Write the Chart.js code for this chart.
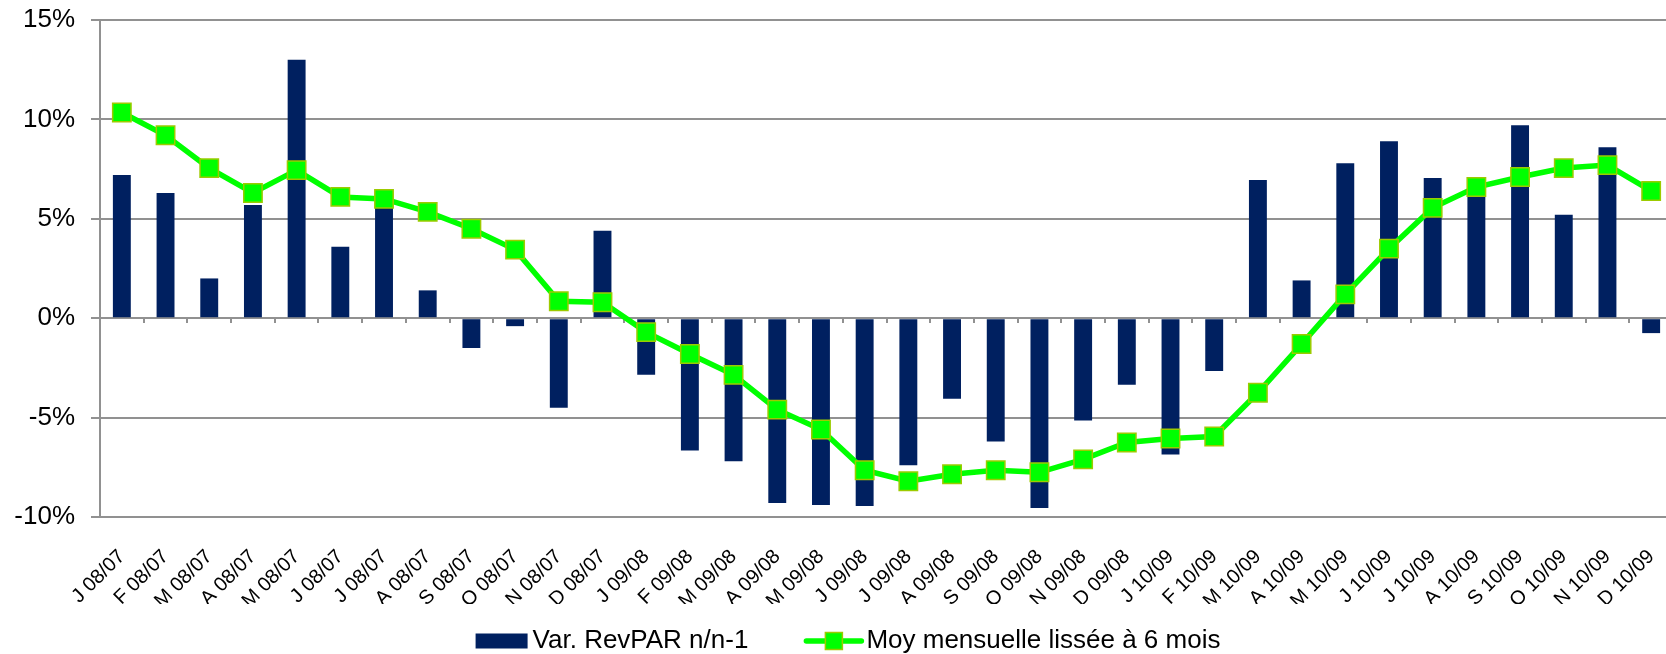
<!DOCTYPE html>
<html>
<head>
<meta charset="utf-8">
<script src="https://cdn.jsdelivr.net/npm/chart.js@4.4.1/dist/chart.umd.min.js"></script>
<style>
  html, body { margin: 0; padding: 0; background: #fff; overflow: hidden; }
  #wrap { width: 1666px; height: 654px; overflow: hidden; }
</style>
</head>
<body>
<div id="wrap"><canvas id="revparChart" width="1673" height="654"></canvas></div>
<script>
const months = [
  'J 08/07', 'F 08/07', 'M 08/07', 'A 08/07', 'M 08/07', 'J 08/07', 'J 08/07', 'A 08/07', 'S 08/07', 'O 08/07', 'N 08/07', 'D 08/07',
  'J 09/08', 'F 09/08', 'M 09/08', 'A 09/08', 'M 09/08', 'J 09/08', 'J 09/08', 'A 09/08', 'S 09/08', 'O 09/08', 'N 09/08', 'D 09/08',
  'J 10/09', 'F 10/09', 'M 10/09', 'A 10/09', 'M 10/09', 'J 10/09', 'J 10/09', 'A 10/09', 'S 10/09', 'O 10/09', 'N 10/09', 'D 10/09'
];
const revparVar = [
  7.2, 6.3, 2.0, 5.7, 13.0, 3.6, 5.6, 1.4, -1.5, -0.4, -4.5, 4.4,
  -2.85, -6.65, -7.2, -9.3, -9.4, -9.45, -7.4, -4.05, -6.2, -9.55, -5.15, -3.35,
  -6.85, -2.65, 6.95, 1.9, 7.8, 8.9, 7.05, 6.3, 9.7, 5.2, 8.6, -0.75
];
const smoothed6m = [
  10.35, 9.2, 7.55, 6.3, 7.45, 6.1, 6.0, 5.35, 4.5, 3.45, 0.85, 0.8,
  -0.7, -1.8, -2.85, -4.6, -5.6, -7.65, -8.2, -7.85, -7.65, -7.75, -7.1, -6.25,
  -6.05, -5.95, -3.75, -1.3, 1.2, 3.5, 5.55, 6.6, 7.1, 7.55, 7.7, 6.4
];
const yTicks = [-10, -5, 0, 5, 10, 15];

const FONT = '"Liberation Sans", Arial, sans-serif';
const GRID = '#919191';
const VIEW_W = 1666; // visible width; the canvas runs a bit past it, the plot is cut at the right

// legend drawn by hand: bar box, then line with its square marker
const legendPlugin = {
  id: 'legendPlugin',
  afterDraw(chart) {
    const ctx = chart.ctx;
    const bar = chart.data.datasets[0];
    const line = chart.data.datasets[1];
    const base = chart.height - 6;
    const mid = chart.height - 13;
    ctx.save();
    ctx.font = '26px ' + FONT;
    ctx.textBaseline = 'alphabetic';
    ctx.textAlign = 'left';
    const w1 = ctx.measureText(bar.label).width;
    const w2 = ctx.measureText(line.label).width;
    const total = 52 + 5 + w1 + 58 + 55 + 5 + w2;
    let x = VIEW_W / 2 + 15 - total / 2;

    ctx.fillStyle = bar.backgroundColor;
    ctx.fillRect(x, mid - 7.5, 52, 15);
    x += 57;
    ctx.fillStyle = '#000';
    ctx.fillText(bar.label, x, base);
    x += w1 + 58;

    ctx.strokeStyle = line.borderColor;
    ctx.lineWidth = line.borderWidth;
    ctx.lineCap = 'round';
    ctx.beginPath();
    ctx.moveTo(x, mid);
    ctx.lineTo(x + 55, mid);
    ctx.stroke();
    ctx.fillStyle = line.pointBackgroundColor;
    ctx.fillRect(x + 27.5 - 8.5, mid - 8.5, 17, 17);
    ctx.strokeStyle = line.pointBorderColor;
    ctx.lineWidth = 1.5;
    ctx.strokeRect(x + 27.5 - 8.5, mid - 8.5, 17, 17);
    x += 60;
    ctx.fillStyle = '#000';
    ctx.fillText(line.label, x, base);
    ctx.restore();
  }
};

new Chart(document.getElementById('revparChart'), {
  type: 'bar',
  data: {
    labels: months,
    datasets: [
      {
        type: 'bar',
        label: 'Var. RevPAR n/n-1',
        data: revparVar,
        backgroundColor: '#002060',
        borderWidth: 0,
        barPercentage: 0.41,
        categoryPercentage: 1,
        order: 1
      },
      {
        type: 'line',
        label: 'Moy mensuelle lissée à 6 mois',
        data: smoothed6m,
        borderColor: '#00FF00',
        borderWidth: 5.5,
        tension: 0,
        pointStyle: 'rect',
        pointRadius: 13,
        pointHoverRadius: 13,
        pointBackgroundColor: '#00FF00',
        pointBorderColor: '#9CCB00',
        pointBorderWidth: 1.5,
        order: 0
      }
    ]
  },
  options: {
    responsive: false,
    animation: false,
    layout: { autoPadding: false, padding: { top: 20, right: 0, bottom: 50, left: 0 } },
    plugins: {
      legend: { display: false },
      tooltip: { enabled: false }
    },
    scales: {
      x: {
        position: 'bottom',
        offset: true,
        grid: { display: false },
        border: { display: false },
        ticks: {
          autoSkip: false,
          minRotation: 45,
          maxRotation: 45,
          padding: 20,
          color: '#000',
          font: { family: FONT, size: 20 }
        },
        afterFit: s => { s.height = 87; s.paddingRight = 0; s.paddingLeft = 0; }
      },
      x0: {
        type: 'category',
        position: { y: 0 },
        offset: true,
        grid: { drawOnChartArea: false, drawTicks: true, tickLength: 5, offset: true, color: GRID, lineWidth: 2 },
        border: { display: false },
        ticks: { display: false },
        afterFit: s => { s.paddingRight = 0; s.paddingLeft = 0; }
      },
      y: {
        min: -10,
        max: 15,
        afterBuildTicks: s => { s.ticks = yTicks.map(v => ({ value: v })); },
        ticks: {
          color: '#000',
          padding: 16,
          font: { family: FONT, size: 26 },
          callback: v => v + '%'
        },
        grid: { color: GRID, lineWidth: 2, tickLength: 9 },
        border: { color: GRID, width: 2 },
        afterFit: s => { s.width = 100; s.paddingTop = 0; s.paddingBottom = 0; }
      }
    }
  },
  plugins: [legendPlugin]
});
</script>
</body>
</html>
